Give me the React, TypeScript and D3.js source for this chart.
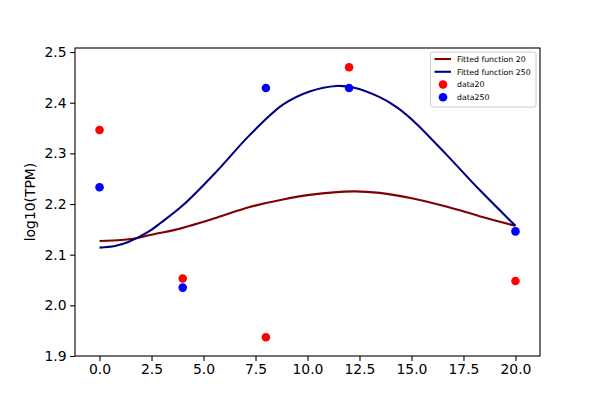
import React, { useEffect, useRef } from 'react';
import * as d3 from 'd3';

// sample times and measured values
const sampleX = [0, 4, 8, 12, 20];
const data20 = [2.346, 2.053, 1.937, 2.470, 2.048];
const data250 = [2.233, 2.035, 2.429, 2.429, 2.146];

// fitted curves
const fit20X = [0, 1.06, 1.7, 2.66, 3.62, 5.62, 7.22, 8.82, 10.1, 12.2, 13.47, 15.07, 16.67, 18.27, 20];
const fit20Y = [2.127, 2.129, 2.132, 2.141, 2.149, 2.173, 2.194, 2.209, 2.218, 2.225, 2.222, 2.211, 2.195, 2.176, 2.157];
const fit250X = [0, 0.74, 1.38, 2.34, 2.98, 4.02, 5.62, 7.22, 8.82, 10.1, 11.4, 12.2, 13.47, 14.3, 15.07, 16.67, 18.27, 20];
const fit250Y = [2.114, 2.117, 2.125, 2.145, 2.164, 2.198, 2.264, 2.336, 2.396, 2.422, 2.433, 2.430, 2.411, 2.391, 2.365, 2.298, 2.228, 2.157];

const xTicks = [0, 2.5, 5, 7.5, 10, 12.5, 15, 17.5, 20];
const yTicks = [1.9, 2.0, 2.1, 2.2, 2.3, 2.4, 2.5];

const legendItems = [
  { label: 'Fitted function 20', kind: 'line', color: '#800000' },
  { label: 'Fitted function 250', kind: 'line', color: '#000080' },
  { label: 'data20', kind: 'dot', color: '#ff0000' },
  { label: 'data250', kind: 'dot', color: '#0000ff' },
];

const FONT = 'DejaVu Sans, sans-serif';

const App: React.FC = () => {
  const svgRef = useRef<SVGSVGElement | null>(null);

  useEffect(() => {
    if (!svgRef.current) return;
    const margin = { top: 48, right: 60, bottom: 44, left: 75 };
    const width = 600 - margin.left - margin.right;
    const height = 400 - margin.top - margin.bottom;

    const root = d3.select(svgRef.current);
    root.selectAll('*').remove();

    const svg = root.append('g').attr('transform', `translate(${margin.left},${margin.top})`);

    const xScale = d3.scaleLinear().domain([-1.18, 21.18]).range([0, width]);
    const yScale = d3.scaleLinear().domain([1.9, 2.508]).range([height, 0]);

    // axes
    const xAxis = svg.append('g')
      .attr('transform', `translate(0,${height})`)
      .call(d3.axisBottom(xScale).tickValues(xTicks).tickFormat(d3.format('.1f')).tickSize(4.9).tickPadding(3.5).tickSizeOuter(0));
    const yAxis = svg.append('g')
      .call(d3.axisLeft(yScale).tickValues(yTicks).tickFormat(d3.format('.1f')).tickSize(4.9).tickPadding(3.5).tickSizeOuter(0));

    [xAxis, yAxis].forEach(ax => {
      ax.select('.domain').remove();
      ax.selectAll('line').attr('stroke', '#000').attr('stroke-width', 1.1);
      ax.selectAll('text').attr('font-family', FONT).attr('font-size', 13.9).attr('fill', '#000');
    });

    // frame
    svg.append('rect')
      .attr('x', 0).attr('y', 0).attr('width', width).attr('height', height)
      .attr('fill', 'none').attr('stroke', '#000').attr('stroke-width', 1.1);

    // fitted lines
    const line = d3.line<[number, number]>()
      .x(d => xScale(d[0]))
      .y(d => yScale(d[1]))
      .curve(d3.curveCatmullRom.alpha(0.5));

    svg.append('path')
      .datum(fit20X.map((x, i) => [x, fit20Y[i]] as [number, number]))
      .attr('d', line)
      .attr('fill', 'none').attr('stroke', '#800000').attr('stroke-width', 2.1);

    svg.append('path')
      .datum(fit250X.map((x, i) => [x, fit250Y[i]] as [number, number]))
      .attr('d', line)
      .attr('fill', 'none').attr('stroke', '#000080').attr('stroke-width', 2.1);

    // scatter points
    svg.selectAll('.dot20')
      .data(sampleX)
      .enter()
      .append('circle')
      .attr('cx', d => xScale(d))
      .attr('cy', (d, i) => yScale(data20[i]))
      .attr('r', 4.3)
      .attr('fill', '#ff0000');

    svg.selectAll('.dot250')
      .data(sampleX)
      .enter()
      .append('circle')
      .attr('cx', d => xScale(d))
      .attr('cy', (d, i) => yScale(data250[i]))
      .attr('r', 4.3)
      .attr('fill', '#0000ff');

    // y label
    svg.append('text')
      .attr('transform', 'rotate(-90)')
      .attr('x', -height / 2)
      .attr('y', -40)
      .attr('text-anchor', 'middle')
      .attr('font-family', FONT)
      .attr('font-size', 13.9)
      .text('log10(TPM)');

    // legend
    const lg = svg.append('g').attr('transform', `translate(${width - 109.5},4)`);
    lg.append('rect')
      .attr('x', 0).attr('y', 0).attr('width', 105.5).attr('height', 55).attr('rx', 2)
      .attr('fill', '#fff').attr('fill-opacity', 0.8)
      .attr('stroke', '#ccc').attr('stroke-width', 1);

    legendItems.forEach((item, i) => {
      const cy = 7 + i * 12.77;
      if (item.kind === 'line') {
        lg.append('line')
          .attr('x1', 4).attr('x2', 20.5).attr('y1', cy).attr('y2', cy)
          .attr('stroke', item.color).attr('stroke-width', 2.1);
      } else {
        lg.append('circle').attr('cx', 12.5).attr('cy', cy).attr('r', 4.3).attr('fill', item.color);
      }
      lg.append('text')
        .attr('x', 26.5).attr('y', cy)
        .attr('dy', '0.35em')
        .attr('font-family', FONT)
        .attr('font-size', 7.8)
        .attr('fill', '#000')
        .text(item.label);
    });
  }, []);

  return (
    <svg
      ref={svgRef}
      width={600}
      height={400}
      style={{ position: 'absolute', left: 0, top: 0, background: '#fff' }}
    />
  );
};

export default App;
